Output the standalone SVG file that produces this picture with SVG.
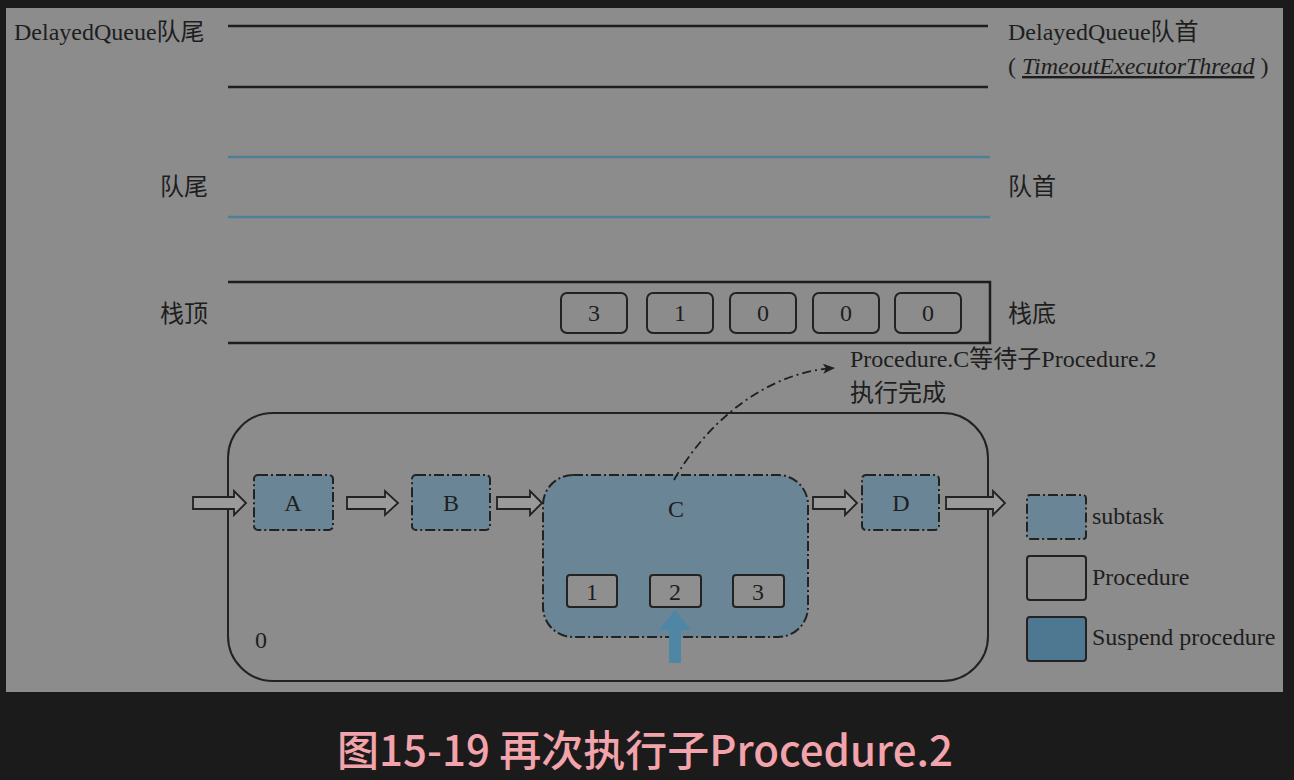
<svg xmlns="http://www.w3.org/2000/svg" width="1294" height="780" viewBox="0 0 1294 780">
<style>
.t{font-family:"Liberation Serif","Noto Sans CJK SC",serif;font-size:24px;fill:#1e1e1e}
.bl{stroke:#1e1e1e;stroke-width:2.5;fill:none}
.bu{stroke:#4d7f98;stroke-width:2.5;fill:none}
.cell{fill:none;stroke:#222;stroke-width:2}
.sub{fill:#6a8595;stroke:#222;stroke-width:2;stroke-dasharray:10 3 2 3}
.inner{fill:#8f8f8f;stroke:#222;stroke-width:2}
.arr{fill:#9a9a9a;stroke:#222;stroke-width:1.8}
</style>
<defs>
<marker id="ah" viewBox="0 0 12 10" refX="11" refY="5" markerWidth="12" markerHeight="10" markerUnits="userSpaceOnUse" orient="auto">
<path d="M0,0 L12,5 L0,10 L3,5 z" fill="#1e1e1e"/>
</marker>
</defs>
<rect width="1294" height="780" fill="#1b1b1b"/>
<rect x="6" y="8" width="1277" height="684" fill="#8c8c8c"/>

<g id="delayed-queue">
<line class="bl" x1="228" y1="26" x2="988" y2="26"/>
<line class="bl" x1="228" y1="87" x2="988" y2="87"/>
<text class="t" x="14" y="40">DelayedQueue队尾</text>
<text class="t" x="1008" y="40">DelayedQueue队首</text>
<text class="t" x="1008" y="74">( <tspan font-style="italic" text-decoration="underline">TimeoutExecutorThread</tspan> )</text>
</g>

<g id="queue">
<line class="bu" x1="228" y1="157" x2="990" y2="157"/>
<line class="bu" x1="228" y1="217" x2="990" y2="217"/>
<text class="t" x="160" y="195">队尾</text>
<text class="t" x="1008" y="195">队首</text>
</g>

<g id="stack">
<path class="bl" d="M228,282 H990 V343 H228"/>
<text class="t" x="160" y="322">栈顶</text>
<text class="t" x="1008" y="322">栈底</text>
<rect class="cell" x="561" y="293" width="66" height="40" rx="6"/>
<rect class="cell" x="647" y="293" width="66" height="40" rx="6"/>
<rect class="cell" x="730" y="293" width="66" height="40" rx="6"/>
<rect class="cell" x="813" y="293" width="66" height="40" rx="6"/>
<rect class="cell" x="895" y="293" width="66" height="40" rx="6"/>
<g class="t" text-anchor="middle">
<text x="594" y="321">3</text>
<text x="680" y="321">1</text>
<text x="763" y="321">0</text>
<text x="846" y="321">0</text>
<text x="928" y="321">0</text>
</g>
</g>

<g id="annotation">
<text class="t" x="850" y="367">Procedure.C等待子Procedure.2</text>
<text class="t" x="850" y="401">执行完成</text>
</g>

<g id="procedure-0">
<rect x="228" y="413" width="760" height="268" rx="45" fill="none" stroke="#222" stroke-width="2"/>
<text class="t" x="255" y="648">0</text>
</g>

<g id="node-A">
<rect class="sub" x="254" y="475" width="79" height="55" rx="4"/>
<text class="t" x="293" y="511" text-anchor="middle">A</text>
</g>
<g id="node-B">
<rect class="sub" x="412" y="475" width="78" height="55" rx="4"/>
<text class="t" x="451" y="511" text-anchor="middle">B</text>
</g>
<g id="node-C">
<rect class="sub" x="543" y="475" width="265" height="162" rx="30"/>
<text class="t" x="676" y="517" text-anchor="middle">C</text>
<rect class="inner" x="567" y="575" width="50" height="32" rx="3"/>
<rect class="inner" x="650" y="575" width="51" height="32" rx="3"/>
<rect class="inner" x="733" y="575" width="51" height="32" rx="3"/>
<text class="t" x="592" y="600" text-anchor="middle">1</text>
<text class="t" x="675" y="600" text-anchor="middle">2</text>
<text class="t" x="758" y="600" text-anchor="middle">3</text>
</g>
<g id="node-D">
<rect class="sub" x="862" y="475" width="77" height="55" rx="4"/>
<text class="t" x="901" y="511" text-anchor="middle">D</text>
</g>

<g id="connectors">
<polygon class="arr" points="193,497 234,497 234,491 246,503 234,515 234,509 193,509"/>
<polygon class="arr" points="347,497 385,497 385,491 398,503 385,515 385,509 347,509"/>
<polygon class="arr" points="497,497 530,497 530,491 542,503 530,515 530,509 497,509"/>
<polygon class="arr" points="813,497 845,497 845,491 857,503 845,515 845,509 813,509"/>
<polygon class="arr" points="946,497 993,497 993,491 1005,503 993,515 993,509 946,509"/>
<path d="M674,480 C708,420 768,372 834,368" fill="none" stroke="#1e1e1e" stroke-width="1.8" stroke-dasharray="9 4 2 4" marker-end="url(#ah)"/>
<polygon points="669,663 681,663 681,630 691,630 675,610 659,630 669,630" fill="#4f86a4"/>
</g>

<g id="legend">
<rect class="sub" x="1027" y="495" width="59" height="44" rx="3"/>
<text class="t" x="1092" y="524">subtask</text>
<rect x="1027" y="556" width="59" height="44" rx="3" fill="none" stroke="#222" stroke-width="2"/>
<text class="t" x="1092" y="585">Procedure</text>
<rect x="1027" y="617" width="59" height="44" rx="3" fill="#4e7891" stroke="#222" stroke-width="2"/>
<text class="t" x="1092" y="645">Suspend procedure</text>
</g>

<text x="645" y="766" text-anchor="middle" font-family="'Noto Sans CJK SC','Noto Sans',sans-serif" font-size="42" font-weight="500" fill="#f2a3ab">图15-19 再次执行子Procedure.2</text>
</svg>
